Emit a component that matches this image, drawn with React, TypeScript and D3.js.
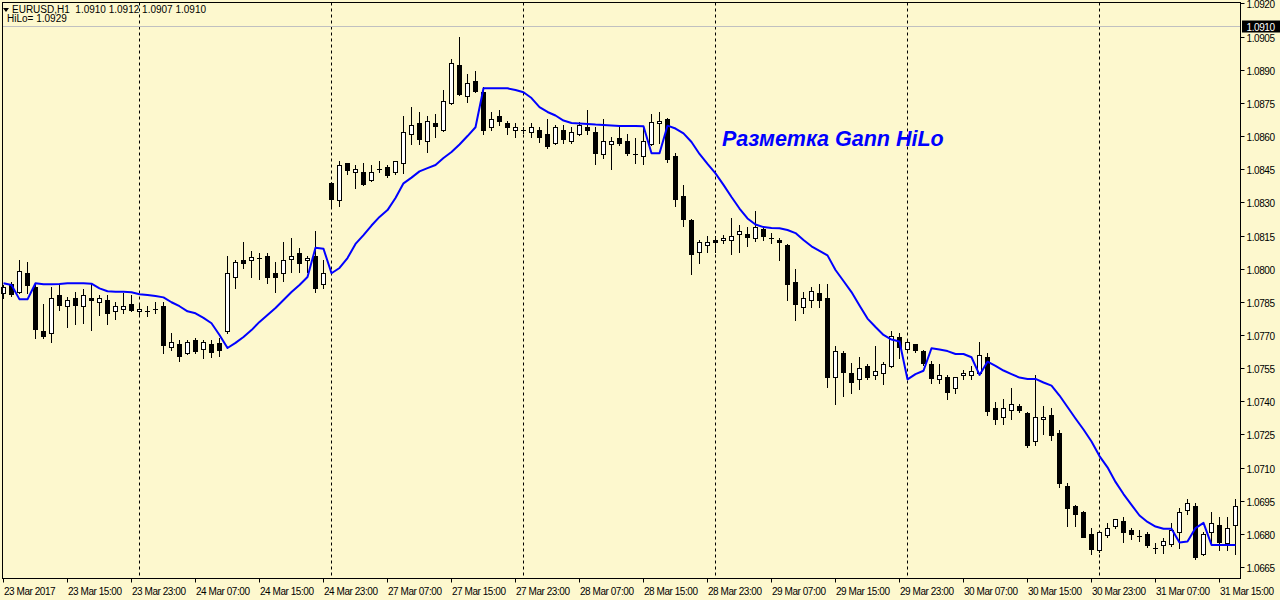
import React from 'react';
import * as d3 from 'd3';

// ---- data (EURUSD H1, 23 Mar 2017 07:00 .. 31 Mar 2017 17:00) ----
const opens = [
  1.07888, 1.07931, 1.07896, 1.07980, 1.07917, 1.07718, 1.07707, 1.07881, 1.07830, 1.07866,
  1.07830, 1.07866, 1.07848, 1.07857, 1.07807, 1.07817, 1.07840, 1.07808, 1.07810, 1.07817,
  1.07831, 1.07647, 1.07658, 1.07617, 1.07676, 1.07635, 1.07658, 1.07664, 1.07718, 1.07964,
  1.08039, 1.08038, 1.08047, 1.08056, 1.07979, 1.07979, 1.08045, 1.08071, 1.08038, 1.08057,
  1.07929, 1.08386, 1.08309, 1.08477, 1.08436, 1.08436, 1.08400, 1.08450, 1.08460, 1.08436,
  1.08477, 1.08608, 1.08658, 1.08576, 1.08658, 1.08626, 1.08748, 1.08921, 1.08780, 1.08849,
  1.08798, 1.08640, 1.08691, 1.08658, 1.08627, 1.08627, 1.08618, 1.08627, 1.08608, 1.08567,
  1.08627, 1.08576, 1.08608, 1.08640, 1.08617, 1.08517, 1.08565, 1.08591, 1.08576, 1.08519,
  1.08510, 1.08565, 1.08658, 1.08677, 1.08510, 1.08329, 1.08220, 1.08077, 1.08106, 1.08128,
  1.08128, 1.08128, 1.08157, 1.08157, 1.08139, 1.08179, 1.08140, 1.08128, 1.08107, 1.07940,
  1.07828, 1.07857, 1.07888, 1.07866, 1.07508, 1.07617, 1.07526, 1.07499, 1.07558, 1.07517,
  1.07526, 1.07558, 1.07689, 1.07636, 1.07658, 1.07627, 1.07567, 1.07500, 1.07508, 1.07459,
  1.07517, 1.07517, 1.07526, 1.07599, 1.07368, 1.07327, 1.07359, 1.07379, 1.07347, 1.07219,
  1.07318, 1.07336, 1.07255, 1.07017, 1.06926, 1.06899, 1.06799, 1.06726, 1.06796, 1.06837,
  1.06857, 1.06816, 1.06792, 1.06798, 1.06735, 1.06748, 1.06755, 1.06807, 1.06907, 1.06926,
  1.06707, 1.06807, 1.06839, 1.06757, 1.06839,
];
const highs = [
  1.07926, 1.07940, 1.08039, 1.08030, 1.07934, 1.07840, 1.07916, 1.07926, 1.07873, 1.07896,
  1.07908, 1.07931, 1.07881, 1.07881, 1.07848, 1.07888, 1.07881, 1.07839, 1.07831, 1.07849,
  1.07849, 1.07707, 1.07677, 1.07677, 1.07686, 1.07677, 1.07677, 1.07686, 1.08057, 1.08039,
  1.08121, 1.08080, 1.08069, 1.08069, 1.08029, 1.08121, 1.08137, 1.08092, 1.08059, 1.08170,
  1.08039, 1.08393, 1.08486, 1.08480, 1.08468, 1.08477, 1.08468, 1.08486, 1.08468, 1.08488,
  1.08689, 1.08730, 1.08709, 1.08691, 1.08700, 1.08807, 1.08947, 1.09047, 1.08879, 1.08896,
  1.08821, 1.08709, 1.08718, 1.08668, 1.08658, 1.08641, 1.08658, 1.08640, 1.08676, 1.08650,
  1.08650, 1.08640, 1.08665, 1.08718, 1.08640, 1.08676, 1.08597, 1.08640, 1.08608, 1.08590,
  1.08638, 1.08698, 1.08709, 1.08681, 1.08522, 1.08379, 1.08224, 1.08130, 1.08148, 1.08148,
  1.08152, 1.08228, 1.08198, 1.08188, 1.08261, 1.08182, 1.08160, 1.08139, 1.08110, 1.07998,
  1.07896, 1.07918, 1.07929, 1.07929, 1.07650, 1.07627, 1.07573, 1.07600, 1.07567, 1.07650,
  1.07578, 1.07718, 1.07709, 1.07677, 1.07661, 1.07630, 1.07582, 1.07567, 1.07519, 1.07511,
  1.07541, 1.07558, 1.07668, 1.07617, 1.07397, 1.07409, 1.07459, 1.07388, 1.07350, 1.07517,
  1.07379, 1.07368, 1.07270, 1.07029, 1.06929, 1.06902, 1.06825, 1.06810, 1.06848, 1.06869,
  1.06878, 1.06825, 1.06816, 1.06807, 1.06757, 1.06780, 1.06848, 1.06918, 1.06958, 1.06941,
  1.06807, 1.06898, 1.06878, 1.06878, 1.06956,
];
const lows = [
  1.07867, 1.07876, 1.07888, 1.07888, 1.07688, 1.07688, 1.07667, 1.07813, 1.07737, 1.07748,
  1.07755, 1.07722, 1.07790, 1.07748, 1.07774, 1.07798, 1.07810, 1.07787, 1.07787, 1.07798,
  1.07617, 1.07632, 1.07583, 1.07615, 1.07617, 1.07594, 1.07599, 1.07605, 1.07709, 1.07914,
  1.08004, 1.07964, 1.07955, 1.07936, 1.07894, 1.07945, 1.07986, 1.07986, 1.07986, 1.07894,
  1.07914, 1.08278, 1.08285, 1.08427, 1.08366, 1.08380, 1.08396, 1.08436, 1.08416, 1.08427,
  1.08434, 1.08565, 1.08565, 1.08526, 1.08597, 1.08622, 1.08744, 1.08785, 1.08755, 1.08799,
  1.08608, 1.08627, 1.08650, 1.08608, 1.08597, 1.08614, 1.08597, 1.08574, 1.08547, 1.08563,
  1.08567, 1.08567, 1.08604, 1.08608, 1.08475, 1.08499, 1.08450, 1.08558, 1.08514, 1.08477,
  1.08474, 1.08561, 1.08567, 1.08484, 1.08283, 1.08193, 1.07977, 1.08027, 1.08077, 1.08077,
  1.08117, 1.08068, 1.08077, 1.08104, 1.08125, 1.08128, 1.08117, 1.08038, 1.07858, 1.07768,
  1.07798, 1.07828, 1.07828, 1.07464, 1.07388, 1.07425, 1.07437, 1.07457, 1.07500, 1.07500,
  1.07477, 1.07554, 1.07597, 1.07623, 1.07623, 1.07564, 1.07484, 1.07484, 1.07409, 1.07436,
  1.07500, 1.07500, 1.07522, 1.07336, 1.07296, 1.07296, 1.07318, 1.07351, 1.07194, 1.07203,
  1.07252, 1.07225, 1.07013, 1.06837, 1.06837, 1.06784, 1.06707, 1.06718, 1.06787, 1.06828,
  1.06764, 1.06775, 1.06766, 1.06739, 1.06715, 1.06715, 1.06746, 1.06735, 1.06888, 1.06685,
  1.06704, 1.06764, 1.06726, 1.06726, 1.06707,
];
const closes = [
  1.07916, 1.07885, 1.07988, 1.07927, 1.07726, 1.07697, 1.07866, 1.07837, 1.07857, 1.07837,
  1.07879, 1.07857, 1.07866, 1.07798, 1.07830, 1.07830, 1.07814, 1.07817, 1.07810, 1.07817,
  1.07656, 1.07667, 1.07606, 1.07667, 1.07626, 1.07667, 1.07624, 1.07632, 1.07979, 1.08029,
  1.08027, 1.08054, 1.08047, 1.07964, 1.07964, 1.08039, 1.08056, 1.08027, 1.08048, 1.07914,
  1.07979, 1.08317, 1.08468, 1.08448, 1.08450, 1.08384, 1.08436, 1.08450, 1.08425, 1.08486,
  1.08617, 1.08649, 1.08588, 1.08668, 1.08647, 1.08757, 1.08929, 1.08789, 1.08839, 1.08805,
  1.08627, 1.08676, 1.08667, 1.08640, 1.08640, 1.08627, 1.08640, 1.08597, 1.08556, 1.08640,
  1.08587, 1.08617, 1.08650, 1.08626, 1.08525, 1.08576, 1.08576, 1.08567, 1.08525, 1.08519,
  1.08576, 1.08662, 1.08667, 1.08495, 1.08317, 1.08226, 1.08068, 1.08119, 1.08119, 1.08119,
  1.08139, 1.08148, 1.08169, 1.08145, 1.08188, 1.08148, 1.08140, 1.08119, 1.07929, 1.07839,
  1.07866, 1.07899, 1.07857, 1.07510, 1.07627, 1.07534, 1.07486, 1.07549, 1.07508, 1.07536,
  1.07567, 1.07697, 1.07647, 1.07667, 1.07633, 1.07574, 1.07507, 1.07517, 1.07443, 1.07508,
  1.07526, 1.07536, 1.07608, 1.07357, 1.07318, 1.07368, 1.07388, 1.07359, 1.07203, 1.07327,
  1.07327, 1.07246, 1.07029, 1.06916, 1.06888, 1.06787, 1.06733, 1.06807, 1.06825, 1.06866,
  1.06807, 1.06798, 1.06792, 1.06748, 1.06735, 1.06766, 1.06816, 1.06898, 1.06938, 1.06697,
  1.06798, 1.06848, 1.06763, 1.06826, 1.06926,
];
const hiloValues = [
  1.07934, 1.07926, 1.07861, 1.07861, 1.07934, 1.07929, 1.07929, 1.07931, 1.07934, 1.07934,
  1.07934, 1.07932, 1.07911, 1.07898, 1.07896, 1.07896, 1.07893, 1.07884, 1.07881, 1.07876,
  1.07870, 1.07848, 1.07830, 1.07807, 1.07798, 1.07777, 1.07753, 1.07700, 1.07641, 1.07664,
  1.07691, 1.07722, 1.07759, 1.07790, 1.07822, 1.07858, 1.07894, 1.07926, 1.07962, 1.08095,
  1.08090, 1.07979, 1.08003, 1.08048, 1.08112, 1.08152, 1.08195, 1.08234, 1.08265, 1.08320,
  1.08386, 1.08412, 1.08440, 1.08455, 1.08469, 1.08501, 1.08528, 1.08562, 1.08600, 1.08640,
  1.08816, 1.08816, 1.08816, 1.08816, 1.08808, 1.08798, 1.08772, 1.08731, 1.08709, 1.08693,
  1.08670, 1.08659, 1.08657, 1.08655, 1.08652, 1.08650, 1.08648, 1.08645, 1.08645, 1.08645,
  1.08644, 1.08522, 1.08522, 1.08647, 1.08634, 1.08612, 1.08573, 1.08519, 1.08474, 1.08431,
  1.08379, 1.08324, 1.08272, 1.08227, 1.08200, 1.08188, 1.08184, 1.08183, 1.08175, 1.08161,
  1.08130, 1.08101, 1.08080, 1.08060, 1.07994, 1.07944, 1.07894, 1.07833, 1.07774, 1.07736,
  1.07700, 1.07679, 1.07670, 1.07499, 1.07523, 1.07538, 1.07640, 1.07634, 1.07627, 1.07614,
  1.07614, 1.07599, 1.07519, 1.07579, 1.07560, 1.07539, 1.07523, 1.07507, 1.07501, 1.07501,
  1.07485, 1.07471, 1.07426, 1.07374, 1.07322, 1.07272, 1.07218, 1.07152, 1.07101, 1.07035,
  1.06980, 1.06931, 1.06883, 1.06854, 1.06833, 1.06823, 1.06823, 1.06761, 1.06765, 1.06826,
  1.06850, 1.06750, 1.06750, 1.06750, 1.06750,
];

const timeLabels = [
  '23 Mar 2017', '23 Mar 15:00', '23 Mar 23:00', '24 Mar 07:00', '24 Mar 15:00',
  '24 Mar 23:00', '27 Mar 07:00', '27 Mar 15:00', '27 Mar 23:00', '28 Mar 07:00',
  '28 Mar 15:00', '28 Mar 23:00', '29 Mar 07:00', '29 Mar 15:00', '29 Mar 23:00',
  '30 Mar 07:00', '30 Mar 15:00', '30 Mar 23:00', '31 Mar 07:00', '31 Mar 15:00',
];
const barsPerLabel = 8;
const dayStartBars = [17, 41, 65, 89, 113, 137];
const priceTicks = [
  1.0665, 1.0680, 1.0695, 1.0710, 1.0725, 1.0740, 1.0755, 1.0770, 1.0785,
  1.0800, 1.0815, 1.0830, 1.0845, 1.0860, 1.0875, 1.0890, 1.0905, 1.0920,
];
const symbol = 'EURUSD,H1';
const lastBar = [1.0910, 1.0912, 1.0907, 1.0910];
const hiloLabel = 1.0929;
const bidPrice = 1.0910;
const annotation = 'Разметка Gann HiLo';

const BG = '#FDF8CE';
const FONT = 'Tahoma, "Liberation Sans", Arial, sans-serif';

export default function App() {
  const W = 1280;
  const H = 600;
  const plotL = 2.5;
  const plotR = 1240.5;
  const plotT = 2.5;
  const plotB = 578.5;

  const n = opens.length;
  const x = d3.scaleLinear().domain([0, n - 1]).range([3, 3 + 8 * (n - 1)]);
  const y = d3.scaleLinear().domain([1.0665, 1.092]).range([567, 3.45]);

  const hiloLine = d3
    .line<number>()
    .x((_, i) => x(i) + 0.5)
    .y((v) => y(v))(hiloValues) || '';

  const candles = opens.map((o, i) => {
    const c = closes[i];
    const h = highs[i];
    const l = lows[i];
    const cx = Math.round(x(i));
    const yTop = Math.round(y(Math.max(o, c)));
    const yBot = Math.round(y(Math.min(o, c)));
    const wick = (
      <line key="w" x1={cx + 0.5} x2={cx + 0.5} y1={Math.round(y(h))} y2={Math.round(y(l)) + 1} stroke="#000" strokeWidth={1} />
    );
    let body;
    if (yBot - yTop < 2) {
      body = <rect key="b" x={cx - 2} y={yTop} width={5} height={Math.max(1, yBot - yTop)} fill="#000" />;
    } else if (c > o) {
      body = <rect key="b" x={cx - 1.5} y={yTop + 0.5} width={4} height={yBot - yTop} fill="#fff" stroke="#000" strokeWidth={1} />;
    } else {
      body = <rect key="b" x={cx - 2} y={yTop} width={5} height={yBot - yTop + 1} fill="#000" />;
    }
    return (
      <g key={i}>
        {wick}
        {body}
      </g>
    );
  });

  const bidY = Math.round(y(bidPrice)) + 0.5;

  return (
    <svg
      width={W}
      height={H}
      style={{ position: 'absolute', left: 0, top: 0, display: 'block' }}
      fontFamily={FONT}
    >
      <rect x={0} y={0} width={W} height={H} fill={BG} />

      {/* day separators */}
      {dayStartBars.map((b) => (
        <line
          key={b}
          x1={Math.round(x(b)) + 0.5}
          x2={Math.round(x(b)) + 0.5}
          y1={plotT}
          y2={plotB}
          stroke="#000"
          strokeWidth={1}
          strokeDasharray="3,3"
        />
      ))}

      {/* bid line */}
      <line x1={plotL} x2={plotR} y1={bidY} y2={bidY} stroke="#C0C0C0" strokeWidth={1} />

      {/* candles */}
      {candles}

      {/* HiLo */}
      <path d={hiloLine} fill="none" stroke="#0000FF" strokeWidth={2} strokeLinejoin="round" />

      {/* frame */}
      <rect x={plotL} y={plotT} width={plotR - plotL} height={plotB - plotT} fill="none" stroke="#000" strokeWidth={1} />

      {/* price axis */}
      {priceTicks.map((p) => {
        const ty = Math.round(y(p)) + 0.5;
        return (
          <g key={p}>
            <line x1={plotR} x2={plotR + 4} y1={ty} y2={ty} stroke="#000" strokeWidth={1} />
            <text x={1246.5} y={ty + 4} fontSize={10} letterSpacing={-0.4} fill="#000">
              {p.toFixed(4)}
            </text>
          </g>
        );
      })}
      <rect x={1242} y={bidY - 6} width={38} height={12} fill="#000" />
      <text x={1246.5} y={bidY + 4} fontSize={10} letterSpacing={-0.4} fill="#fff">
        {bidPrice.toFixed(4)}
      </text>

      {/* time axis */}
      {timeLabels.map((t, k) => {
        const tx = Math.round(x(k * barsPerLabel)) + 0.5;
        return (
          <g key={t}>
            <line x1={tx} x2={tx} y1={plotB} y2={plotB + 4} stroke="#000" strokeWidth={1} />
            <text x={tx + 0.5} y={595} fontSize={10} letterSpacing={-0.45} fill="#000">
              {t}
            </text>
          </g>
        );
      })}

      {/* header */}
      <path d="M3,8 L9,8 L6,12 Z" fill="#000" />
      <text x={12} y={13} fontSize={10} fill="#000" xmlSpace="preserve">
        {`${symbol}  ${lastBar.map((v) => v.toFixed(4)).join(' ')}`}
      </text>
      <text x={7} y={22} fontSize={10} fill="#000">
        {`HiLo= ${hiloLabel.toFixed(4)}`}
      </text>

      {/* annotation */}
      <text
        x={722}
        y={146}
        fontSize={21.5}
        fontWeight="bold"
        fontStyle="italic"
        fill="#0000FF"
        fontFamily='Tahoma, "Liberation Sans", Arial, sans-serif'
      >
        {annotation}
      </text>
    </svg>
  );
}
